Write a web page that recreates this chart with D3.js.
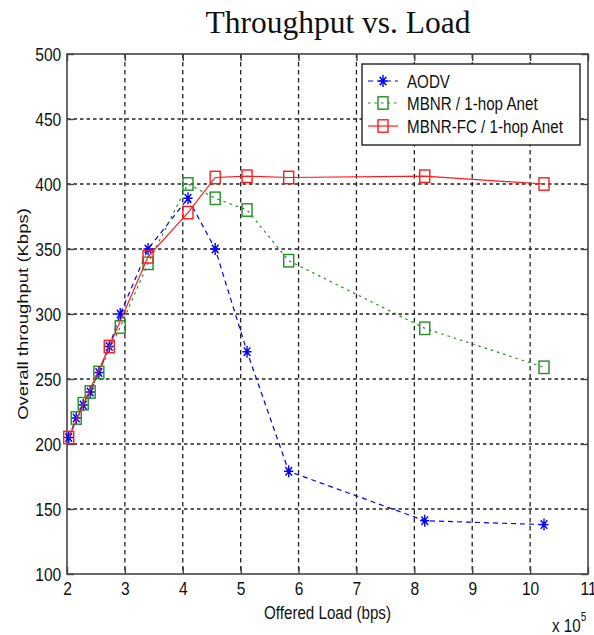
<!DOCTYPE html>
<html>
<head>
<meta charset="utf-8">
<script src="https://cdn.jsdelivr.net/npm/d3@7/dist/d3.min.js"></script>
<style>
html,body{margin:0;padding:0;background:#fff;}
svg{display:block;}
text{font-family:"Liberation Sans",Arial,sans-serif;fill:#111;}
</style>
</head>
<body>
<script>
// ---- data ----
const offeredLoad = [2.03, 2.16, 2.28, 2.40, 2.55, 2.73, 2.92, 3.40, 4.09, 4.56, 5.11, 5.83, 8.18, 10.24];
const aodv   = [205, 220, 230, 240, 255, 275, 300, 350, 389, 350, 271, 179, 141, 138];
const mbnr   = [null, 220, 231, 240, 255, null, 290, 339, 400, 389, 380, 341, 289, 259];
const mbnrFC = [205, null, null, null, null, 275, null, 344, 378, 405, 406, 405, 406, 400];
const seriesNames = ["AODV", "MBNR / 1-hop Anet", "MBNR-FC / 1-hop Anet"];
const xTicks = [2, 3, 4, 5, 6, 7, 8, 9, 10, 11];
const yTicks = [100, 150, 200, 250, 300, 350, 400, 450, 500];

const W = 594, H = 635;
const SX = 0.82; // horizontal squeeze of the original bitmap text
const svg = d3.select("body").append("svg").attr("width", W).attr("height", H);

const x = d3.scaleLinear().domain([2, 11]).range([67, 588]);
const y = d3.scaleLinear().domain([100, 500]).range([574, 54]);

// grid
const grid = svg.append("g");
grid.selectAll("line.vx").data(xTicks.slice(1, -1)).join("line")
  .attr("x1", d => x(d)).attr("x2", d => x(d)).attr("y1", y(500)).attr("y2", y(100))
  .attr("stroke", "#222").attr("stroke-width", 1.3).attr("stroke-dasharray", "4.5,3.5");
grid.selectAll("line.hy").data(yTicks.slice(1, -1)).join("line")
  .attr("y1", d => y(d)).attr("y2", d => y(d)).attr("x1", x(2)).attr("x2", x(11))
  .attr("stroke", "#222").attr("stroke-width", 1.3).attr("stroke-dasharray", "3.5,3");

// axes
function styleAxis(g) {
  g.select(".domain").remove();
  g.selectAll(".tick line").attr("stroke", "#444").attr("stroke-width", 1.4);
}
const xAxis = svg.append("g").attr("transform", `translate(0,${y(100)})`)
  .call(d3.axisBottom(x).tickValues(xTicks).tickFormat(d3.format("d")).tickSize(-7).tickPadding(8));
styleAxis(xAxis);
xAxis.selectAll("text").attr("font-size", 19).attr("font-family", "Liberation Sans, Arial, sans-serif")
  .attr("fill", "#111").attr("transform", `scale(${SX},1)`);

const yAxis = svg.append("g").attr("transform", `translate(${x(2)},0)`)
  .call(d3.axisLeft(y).tickValues(yTicks).tickFormat(d3.format("d")).tickSize(-7).tickPadding(7));
styleAxis(yAxis);
yAxis.selectAll("text").attr("font-size", 19).attr("font-family", "Liberation Sans, Arial, sans-serif")
  .attr("fill", "#111").attr("transform", `scale(${SX},1)`);

const xTop = svg.append("g").attr("transform", `translate(0,${y(500)})`)
  .call(d3.axisTop(x).tickValues(xTicks).tickFormat("").tickSize(-7));
styleAxis(xTop);
const yRight = svg.append("g").attr("transform", `translate(${x(11)},0)`)
  .call(d3.axisRight(y).tickValues(yTicks).tickFormat("").tickSize(-7));
styleAxis(yRight);

// box
svg.append("rect").attr("x", x(2)).attr("y", y(500)).attr("width", x(11) - x(2)).attr("height", y(100) - y(500))
  .attr("fill", "none").attr("stroke", "#444").attr("stroke-width", 1.6);

// series
const series = [
  {name: seriesNames[0], vals: aodv,   color: "#0000ff", dash: "5,4",  marker: "star"},
  {name: seriesNames[1], vals: mbnr,   color: "#1f8f1f", dash: "2.5,4", marker: "square"},
  {name: seriesNames[2], vals: mbnrFC, color: "#ff1a1a", dash: null,   marker: "square"}
];
const starPath = "M0,-6L0,6M-4.6,0L4.6,0M-3.3,-4.3L3.3,4.3M-3.3,4.3L3.3,-4.3";
function drawMarker(g, type, color) {
  if (type === "star") {
    g.append("path").attr("d", starPath).attr("stroke", color).attr("stroke-width", 1.4).attr("fill", "none");
  } else {
    g.append("rect").attr("x", -5).attr("y", -6.2).attr("width", 10).attr("height", 12.4)
      .attr("fill", "none").attr("stroke", color).attr("stroke-width", 1.4);
  }
}
const line = d3.line().x(d => x(d[0])).y(d => y(d[1]));
series.forEach(s => {
  const pts = offeredLoad.map((l, i) => [l, s.vals[i]]).filter(d => d[1] != null);
  svg.append("path").datum(pts).attr("d", line).attr("fill", "none")
    .attr("stroke", s.color).attr("stroke-width", 1.2)
    .attr("stroke-dasharray", s.dash);
  pts.forEach(p => {
    const g = svg.append("g").attr("transform", `translate(${x(p[0])},${y(p[1])})`);
    drawMarker(g, s.marker, s.color);
  });
});

// legend
const lg = svg.append("g");
lg.append("rect").attr("x", 362).attr("y", 64).attr("width", 218).attr("height", 81)
  .attr("fill", "#fff").attr("stroke", "#222").attr("stroke-width", 1.4);
const rowY = [81, 103, 126];
series.forEach((s, i) => {
  lg.append("line").attr("x1", 368).attr("x2", 398).attr("y1", rowY[i]).attr("y2", rowY[i])
    .attr("stroke", s.color).attr("stroke-width", 1.2).attr("stroke-dasharray", s.dash);
  drawMarker(lg.append("g").attr("transform", `translate(383,${rowY[i]})`), s.marker, s.color);
  lg.append("g").attr("transform", `translate(407,${rowY[i]}) scale(${SX},1)`)
    .append("text").attr("font-size", 18.5).attr("dy", "0.36em").text(s.name);
});

// axis titles
svg.append("g").attr("transform", `translate(${(x(2) + x(11)) / 2},619) scale(${SX},1)`)
  .append("text").attr("text-anchor", "middle").attr("font-size", 18.5).text("Offered Load (bps)");
svg.append("g").attr("transform", `translate(28,${(y(100) + y(500)) / 2}) rotate(-90) scale(1,${SX})`)
  .append("text").attr("text-anchor", "middle").attr("font-size", 18.5).text("Overall throughput (Kbps)");
const mult = svg.append("g").attr("transform", `translate(552,632) scale(${SX},1)`).append("text")
  .attr("font-size", 18.5);
mult.append("tspan").text("x 10");
mult.append("tspan").attr("font-size", 12).attr("dy", -11).text("5");

// title
svg.append("text").attr("x", 338).attr("y", 33).attr("text-anchor", "middle")
  .style("font-family", "'Liberation Serif','Times New Roman',serif").attr("font-size", 31.5)
  .attr("fill", "#000").text("Throughput vs. Load");
</script>
</body>
</html>
